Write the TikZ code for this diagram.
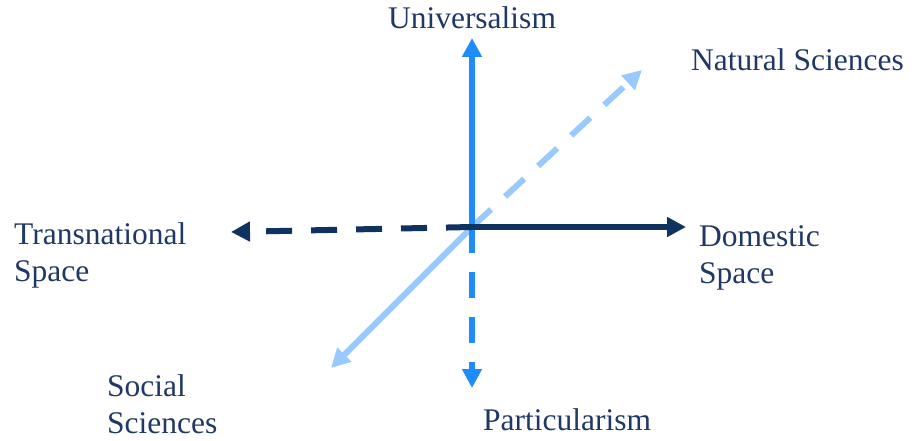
\documentclass[tikz,border=0pt]{standalone}
\usepackage{fontspec}
\setmainfont{Liberation Serif}
\usetikzlibrary{arrows.meta}

\definecolor{navy}{HTML}{0E335F}
\definecolor{midblue}{HTML}{1E8CFA}
\definecolor{paleblue}{HTML}{99CAFF}
\definecolor{labelblue}{HTML}{1F3864}

\begin{document}
\begin{tikzpicture}[x=1pt, y=-1pt,
  axis/.style={line width=6pt, -{Triangle[length=19pt, width=19pt]}},
  gapped/.style={dash pattern=on 26pt off 19pt},
  lbl/.style={text=labelblue, font=\fontsize{31.5}{37}\selectfont, inner sep=0pt, align=left}]

\useasboundingbox (0, 0) rectangle (917, 441);

% axis ends
\coordinate (o) at (472, 227);
\coordinate (up) at (472, 38);
\coordinate (down) at (472, 388);
\coordinate (east) at (686, 227);
\coordinate (west) at (231, 232);
\coordinate (ne) at (642, 70);
\coordinate (sw) at (331, 368);

% axes
\draw [axis, paleblue] (o) -- (sw);
\draw [axis, paleblue, gapped] (o) -- (ne);
\draw [axis, midblue] (o) -- (up);
\draw [axis, midblue, gapped] (o) -- (down);
\draw [axis, navy, gapped] (o) -- (west);
\draw [axis, navy] (o) -- (east);

% labels
\node [lbl] (universalism) at (472, 18) {Universalism};
\node [lbl, anchor=west] (natural) at (691, 60) {Natural Sciences};
\node [lbl, anchor=west] (transnational) at (14, 255) {Transnational\\Space};
\node [lbl, anchor=west] (domestic) at (699, 258) {Domestic\\Space};
\node [lbl, anchor=west] (social) at (107, 404) {Social\\Sciences};
\node [lbl] (particularism) at (567, 420) {Particularism};

\end{tikzpicture}
\end{document}
